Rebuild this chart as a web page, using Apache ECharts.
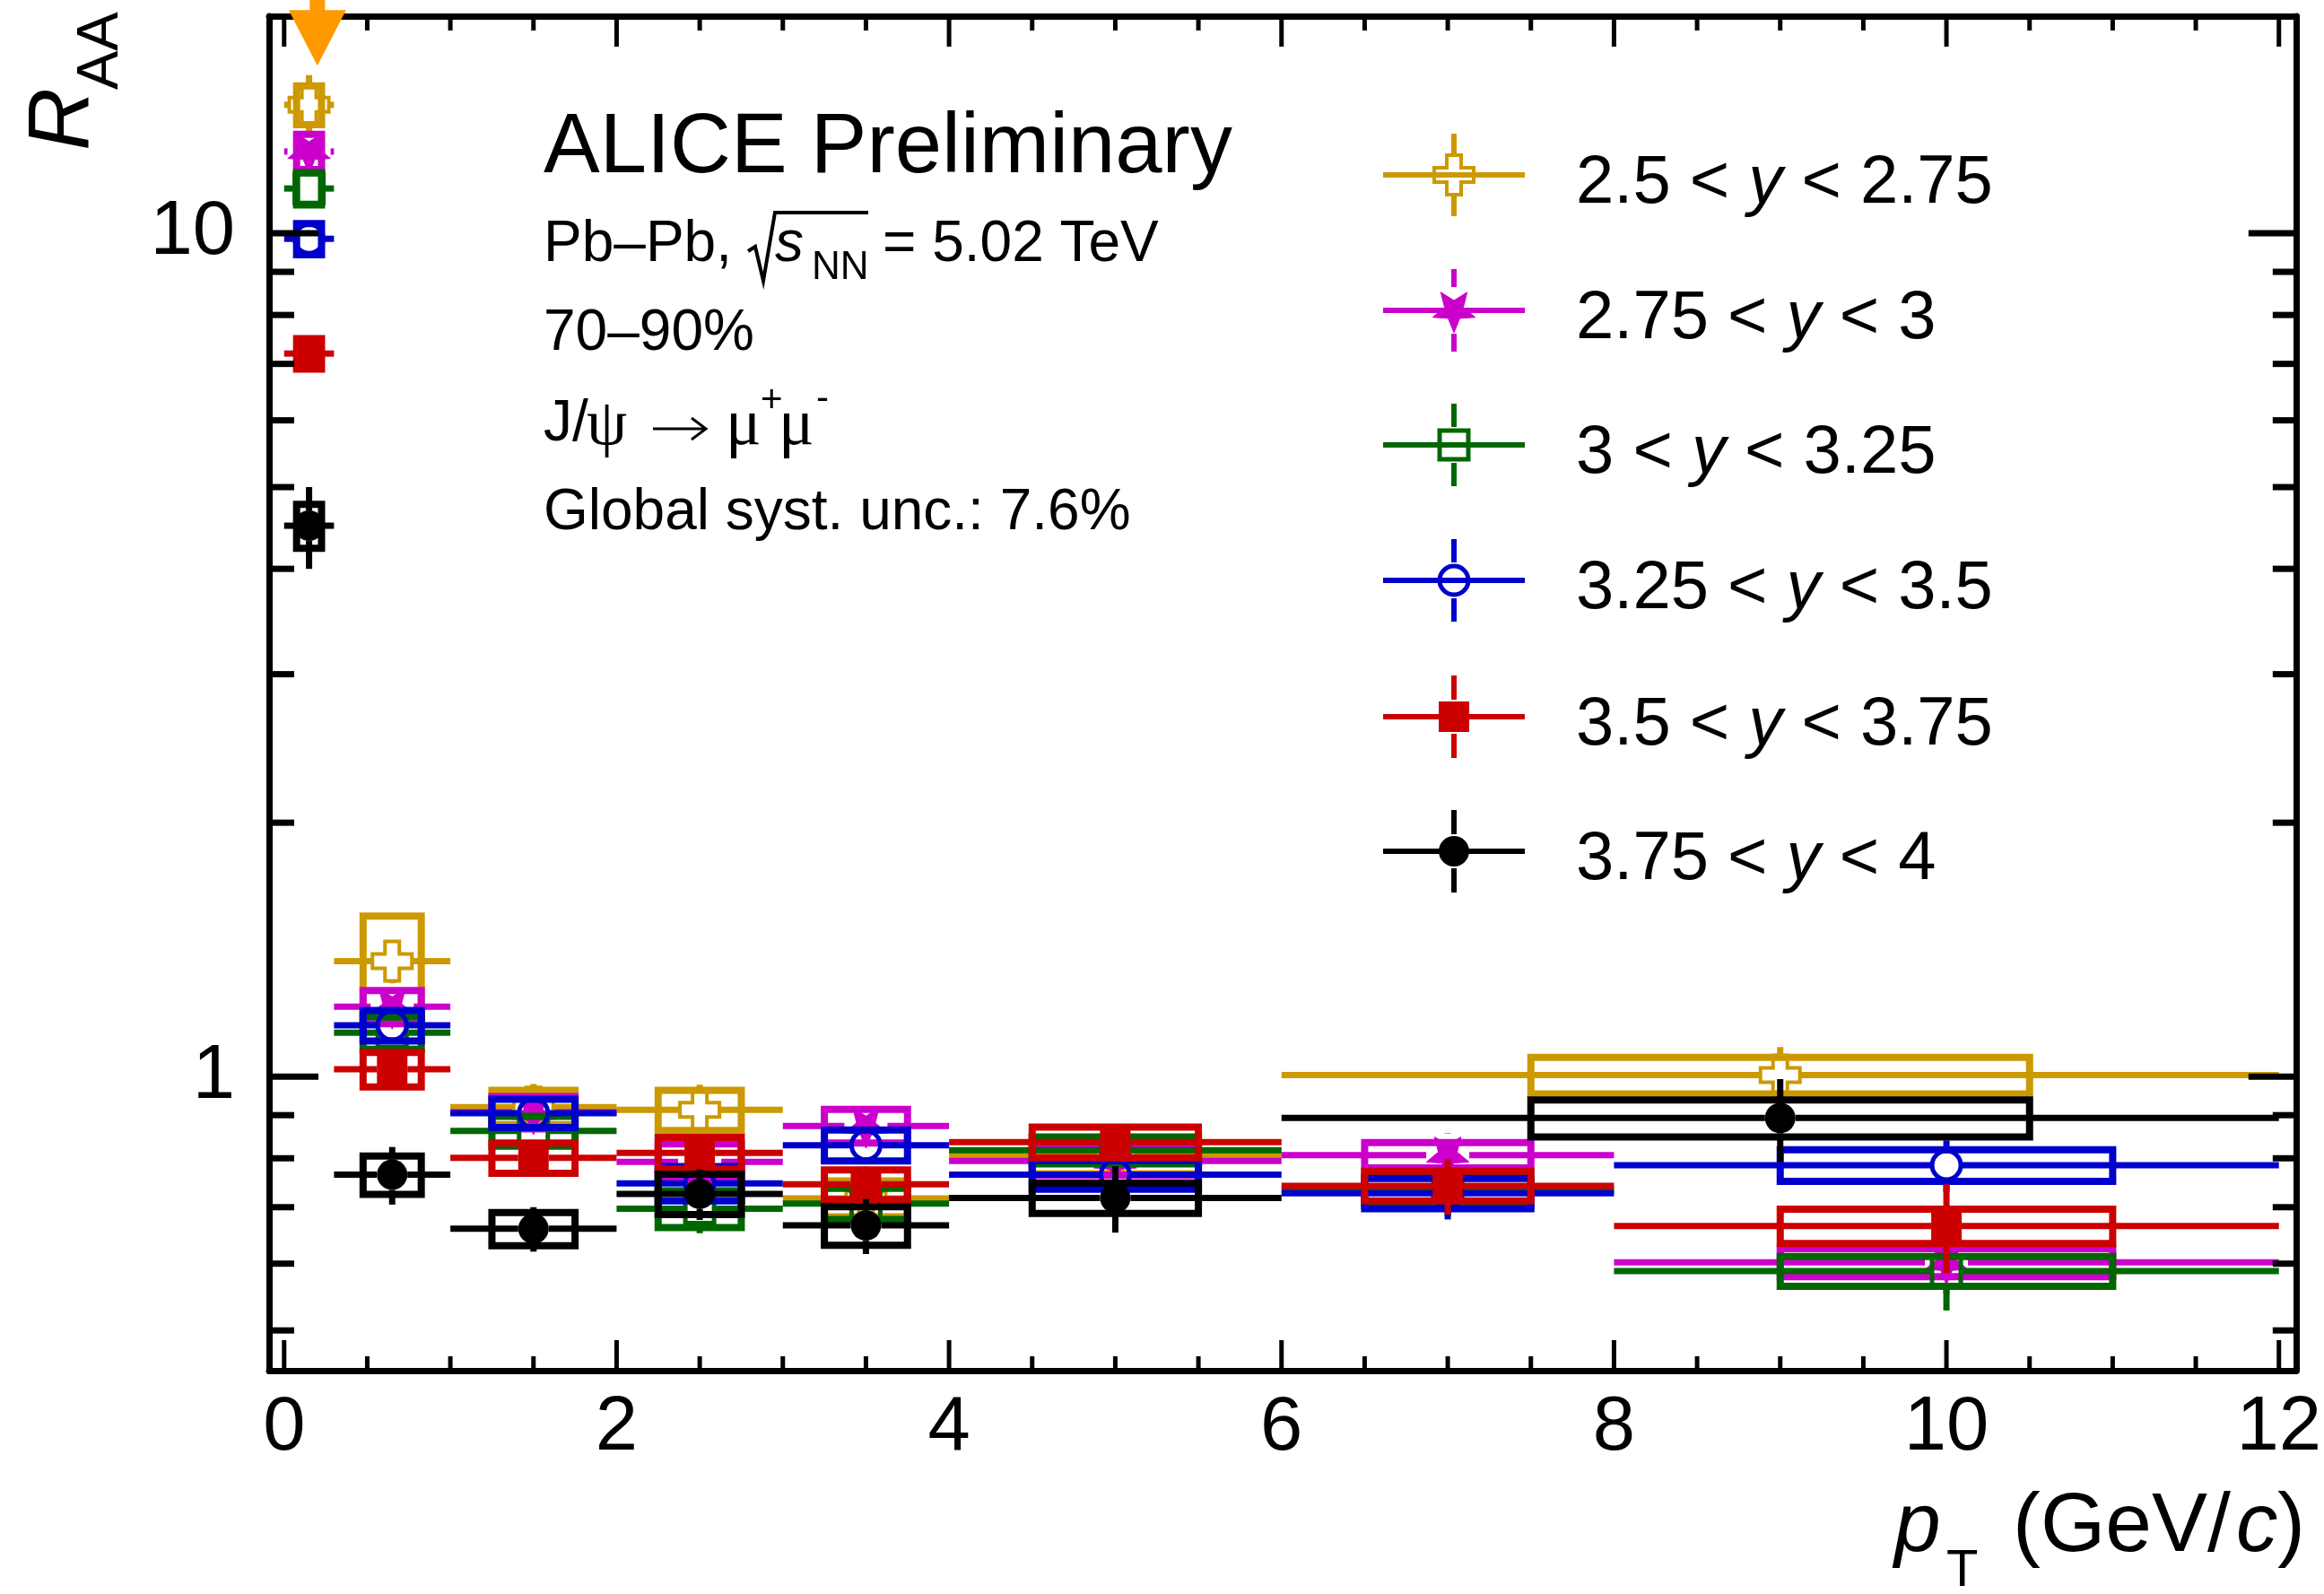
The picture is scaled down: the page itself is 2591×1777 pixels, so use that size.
<!DOCTYPE html>
<html>
<head>
<meta charset="utf-8">
<title>J/psi R_AA vs pT in rapidity intervals, Pb-Pb 70-90%</title>
<script src="https://cdn.jsdelivr.net/npm/echarts@6.0.0/dist/echarts.min.js"></script>
<style>
html, body { margin: 0; padding: 0; background: #ffffff; }
#chart { width: 2591px; height: 1777px; }
</style>
</head>
<body>
<div id="chart"></div>
<script>
// ---------------- data ----------------
// pT bins (GeV/c): the two outermost rapidity intervals use a wide last bin
const binsCoarse = [[0, 0.3], [0.3, 1], [1, 2], [2, 3], [3, 4], [4, 6], [6, 12]];
const binsFine   = [[0, 0.3], [0.3, 1], [1, 2], [2, 3], [3, 4], [4, 6], [6, 8], [8, 12]];
const ptCoarse   = [0.15, 0.65, 1.5, 2.5, 3.5, 5, 9];
const ptFine     = [0.15, 0.65, 1.5, 2.5, 3.5, 5, 7, 10];

// rapidity interval edges, one per series
const rapidityEdges = [['2.5', '2.75'], ['2.75', '3'], ['3', '3.25'], ['3.25', '3.5'], ['3.5', '3.75'], ['3.75', '4']];

// R_AA, statistical and systematic uncertainties
const raa_25_275  = [14.2, 1.37, 0.92, 0.913, 0.717, 0.807, 1.004];
const stat_25_275 = [1.2, 0.08, 0.06, 0.065, 0.05, 0.045, 0.08];
const syst_25_275 = [0.75, 0.18, 0.043, 0.05, 0.035, 0.04, 0.05];

const raa_275_3  = [12.5, 1.21, 0.907, 0.792, 0.874, 0.794, 0.807, 0.602];
const stat_275_3 = [0.6, 0.06, 0.05, 0.05, 0.05, 0.04, 0.05, 0.05];
const syst_275_3 = [0.6, 0.055, 0.04, 0.04, 0.04, 0.03, 0.028, 0.023];

const raa_3_325  = [11.3, 1.127, 0.862, 0.697, 0.707, 0.818, 0.733, 0.588];
const stat_3_325 = [0.4, 0.05, 0.04, 0.045, 0.04, 0.04, 0.05, 0.06];
const syst_3_325 = [0.5, 0.05, 0.035, 0.035, 0.03, 0.03, 0.03, 0.024];

const raa_325_35  = [9.85, 1.15, 0.905, 0.747, 0.829, 0.765, 0.727, 0.785];
const stat_325_35 = [0.3, 0.05, 0.04, 0.04, 0.04, 0.04, 0.05, 0.055];
const syst_325_35 = [0.42, 0.048, 0.035, 0.035, 0.035, 0.03, 0.03, 0.034];

const raa_35_375  = [7.2, 1.02, 0.801, 0.812, 0.745, 0.836, 0.742, 0.665];
const stat_35_375 = [0.35, 0.05, 0.04, 0.04, 0.037, 0.04, 0.056, 0.08];
const syst_35_375 = [0.3, 0.048, 0.033, 0.035, 0.03, 0.035, 0.03, 0.031];

const raa_375_4  = [4.5, 0.765, 0.66, 0.726, 0.666, 0.718, 0.893];
const stat_375_4 = [0.5, 0.06, 0.04, 0.05, 0.05, 0.065, 0.1];
const syst_375_4 = [0.27, 0.04, 0.03, 0.04, 0.035, 0.03, 0.045];

// off-scale indicator (arrow tip position)
const arrowTip = [0.2, 15.8];

// axis ticks
const xMajorTicks = [0, 2, 4, 6, 8, 10, 12];
const xMinorTicks = [0.5, 1, 1.5, 2.5, 3, 3.5, 4.5, 5, 5.5, 6.5, 7, 7.5, 8.5, 9, 9.5, 10.5, 11, 11.5];
const yMajorTicks = [1, 10];
const yMinorTicks = [0.5, 0.6, 0.7, 0.8, 0.9, 2, 3, 4, 5, 6, 7, 8, 9];

// ---------------- styling ----------------
const X_MIN = -0.0905, X_MAX = 12.103;
const Y_MIN = 0.448, Y_MAX = 18.09;
const SANS = '"Liberation Sans", Arial, Helvetica, sans-serif';
const SERIF = '"Liberation Serif", "DejaVu Serif", serif';
const ERR_LW = 7, BOX_LW = 8;

const seriesDefs = [
  { ri: 0, bins: binsCoarse, pt: ptCoarse, raa: raa_25_275, stat: stat_25_275, syst: syst_25_275, color: '#CC9900', marker: 'openCross' },
  { ri: 1, bins: binsFine, pt: ptFine, raa: raa_275_3, stat: stat_275_3, syst: syst_275_3, color: '#CC00CC', marker: 'star' },
  { ri: 2, bins: binsFine, pt: ptFine, raa: raa_3_325, stat: stat_3_325, syst: syst_3_325, color: '#006600', marker: 'openSquare' },
  { ri: 3, bins: binsFine, pt: ptFine, raa: raa_325_35, stat: stat_325_35, syst: syst_325_35, color: '#0000CC', marker: 'openCircle' },
  { ri: 4, bins: binsFine, pt: ptFine, raa: raa_35_375, stat: stat_35_375, syst: syst_35_375, color: '#CC0000', marker: 'fullSquare' },
  { ri: 5, bins: binsCoarse, pt: ptCoarse, raa: raa_375_4, stat: stat_375_4, syst: syst_375_4, color: '#000000', marker: 'fullCircle' }
];

// half-size of each marker: error bars stop at the marker edge
const MARKER_HALF = { openCross: 22, star: 24, openSquare: 18, openCircle: 18, fullSquare: 17, fullCircle: 17 };

function markerEl(type, cx, cy, color) {
  switch (type) {
    case 'openCross': {
      const h = 22, a = 8;
      const pts = [[cx - a, cy - h], [cx + a, cy - h], [cx + a, cy - a], [cx + h, cy - a], [cx + h, cy + a], [cx + a, cy + a],
                   [cx + a, cy + h], [cx - a, cy + h], [cx - a, cy + a], [cx - h, cy + a], [cx - h, cy - a], [cx - a, cy - a]];
      return { type: 'polygon', shape: { points: pts }, style: { fill: 'none', stroke: color, lineWidth: 4 } };
    }
    case 'star': {
      const R = 25, r = 11, pts = [];
      for (let k = 0; k < 10; k++) {
        const ang = Math.PI / 2 + k * Math.PI / 5;
        const rad = (k % 2 === 0) ? R : r;
        pts.push([cx + rad * Math.cos(ang), cy + rad * Math.sin(ang)]);
      }
      return { type: 'polygon', shape: { points: pts }, style: { fill: color, stroke: color, lineWidth: 1 } };
    }
    case 'openSquare':
      return { type: 'rect', shape: { x: cx - 16, y: cy - 16, width: 32, height: 32 }, style: { fill: 'none', stroke: color, lineWidth: 5 } };
    case 'openCircle':
      return { type: 'circle', shape: { cx: cx, cy: cy, r: 16 }, style: { fill: 'none', stroke: color, lineWidth: 5 } };
    case 'fullSquare':
      return { type: 'rect', shape: { x: cx - 17, y: cy - 17, width: 34, height: 34 }, style: { fill: color, stroke: null } };
    default:
      return { type: 'circle', shape: { cx: cx, cy: cy, r: 17 }, style: { fill: color, stroke: null } };
  }
}

function seg(x1, y1, x2, y2, color, lw) {
  return { type: 'line', shape: { x1: x1, y1: y1, x2: x2, y2: y2 }, style: { stroke: color, lineWidth: lw, lineCap: 'butt' } };
}

function makeRender(def) {
  const gap = MARKER_HALF[def.marker];
  return function (params, api) {
    const xc = api.value(0), xlo = api.value(1), xhi = api.value(2);
    const v = api.value(3), st = api.value(4), sy = api.value(5);
    const c = api.coord([xc, v]);
    const left = api.coord([xlo, v])[0], right = api.coord([xhi, v])[0];
    const yUp = api.coord([xc, v + st])[1], yDn = api.coord([xc, v - st])[1];
    const bh = (xhi - xlo) / 4;
    const b0 = api.coord([xc - bh, v + sy]), b1 = api.coord([xc + bh, v - sy]);
    const kids = [];
    kids.push({ type: 'rect', shape: { x: b0[0], y: b0[1], width: b1[0] - b0[0], height: b1[1] - b0[1] },
                style: { fill: 'none', stroke: def.color, lineWidth: BOX_LW } });
    if (c[0] - gap > left) kids.push(seg(left, c[1], c[0] - gap, c[1], def.color, ERR_LW));
    if (right > c[0] + gap) kids.push(seg(c[0] + gap, c[1], right, c[1], def.color, ERR_LW));
    if (c[1] - gap > yUp) kids.push(seg(c[0], yUp, c[0], c[1] - gap, def.color, ERR_LW));
    if (yDn > c[1] + gap) kids.push(seg(c[0], c[1] + gap, c[0], yDn, def.color, ERR_LW));
    kids.push(markerEl(def.marker, c[0], c[1], def.color));
    return { type: 'group', children: kids };
  };
}

const allSeries = seriesDefs.map(function (def) {
  const data = def.pt.map(function (x, i) {
    return [x, def.bins[i][0], def.bins[i][1], def.raa[i], def.stat[i], def.syst[i]];
  });
  return {
    type: 'custom', name: rapidityEdges[def.ri].join('-'), xAxisIndex: 0, yAxisIndex: 0,
    renderItem: makeRender(def), encode: { x: [0, 1, 2], y: [3] }, data: data, z: 10 + def.ri, clip: false
  };
});

// off-scale arrow at the top of the frame
allSeries.push({
  type: 'custom', xAxisIndex: 0, yAxisIndex: 0, clip: false, z: 30, encode: { x: 0, y: 1 },
  data: [arrowTip],
  renderItem: function (params, api) {
    const p = api.coord([api.value(0), api.value(1)]);
    const headH = 62, headW = 32, shaftW = 8.5;
    return { type: 'group', children: [
      { type: 'rect', shape: { x: p[0] - shaftW, y: 0, width: 2 * shaftW, height: p[1] - headH + 2 }, style: { fill: '#FF9900' } },
      { type: 'polygon', shape: { points: [[p[0] - headW, p[1] - headH], [p[0] + headW, p[1] - headH], [p[0], p[1]]] }, style: { fill: '#FF9900' } }
    ] };
  }
});

// tick marks on all four sides of the frame, placed through the axis scales
const xTickData = xMajorTicks.map(function (v) { return [v, 1, 1]; })
  .concat(xMinorTicks.map(function (v) { return [v, 1, 0]; }));
const yTickData = yMajorTicks.map(function (v) { return [1, v, 1]; })
  .concat(yMinorTicks.map(function (v) { return [1, v, 0]; }));

allSeries.push({
  type: 'custom', xAxisIndex: 0, yAxisIndex: 0, z: 40, silent: true, encode: { x: 0, y: 1 }, data: xTickData,
  renderItem: function (params, api) {
    const cs = params.coordSys;
    const px = api.coord([api.value(0), 1])[0];
    const L = api.value(2) ? 34 : 16;
    const yb = cs.y + cs.height, yt = cs.y;
    return { type: 'group', children: [seg(px, yb, px, yb - L, '#000', 5), seg(px, yt, px, yt + L, '#000', 5)] };
  }
});
allSeries.push({
  type: 'custom', xAxisIndex: 0, yAxisIndex: 0, z: 40, silent: true, encode: { x: 0, y: 1 }, data: yTickData,
  renderItem: function (params, api) {
    const cs = params.coordSys;
    const py = api.coord([1, api.value(1)])[1];
    const major = api.value(2);
    const xl = cs.x, xr = cs.x + cs.width;
    return { type: 'group', children: [
      seg(xl, py, xl + (major ? 55 : 28), py, '#000', 7),
      seg(xr, py, xr - (major ? 53 : 26), py, '#000', 7)
    ] };
  }
});

// ---------------- axes (frame) ----------------
const lineBlack = { color: '#000', width: 7 };
function xAx(pos, labels) {
  return {
    type: 'value', position: pos, min: X_MIN, max: X_MAX,
    axisLine: { show: true, onZero: false, lineStyle: lineBlack },
    axisTick: { show: false },
    axisLabel: labels ? { show: true, customValues: xMajorTicks, color: '#000', fontSize: 85, fontFamily: SANS, margin: 22 } : { show: false },
    splitLine: { show: false }, minorTick: { show: false }
  };
}
function yAx(pos, labels) {
  return {
    type: 'log', logBase: 10, position: pos, min: Y_MIN, max: Y_MAX,
    axisLine: { show: true, onZero: false, lineStyle: lineBlack },
    axisTick: { show: false },
    axisLabel: labels ? { show: true, customValues: yMajorTicks, color: '#000', fontSize: 85, fontFamily: SANS, margin: 38 } : { show: false },
    splitLine: { show: false }, minorTick: { show: false }
  };
}

// ---------------- legend and text annotations ----------------
const legendRows = [195, 346, 496, 647, 799, 949];
const legendLineX0 = 1542, legendLineX1 = 1700, legendMarkX = 1621, legendTextX = 1757;
const graphics = [];
seriesDefs.forEach(function (def, i) {
  const y = legendRows[i];
  const gap = MARKER_HALF[def.marker] + 2;
  graphics.push(seg(legendLineX0, y, legendLineX1, y, def.color, 6));
  graphics.push(seg(legendMarkX, y - 46, legendMarkX, y - gap, def.color, 6));
  graphics.push(seg(legendMarkX, y + gap, legendMarkX, y + 46, def.color, 6));
  graphics.push(markerEl(def.marker, legendMarkX, y, def.color));
  const e = rapidityEdges[def.ri];
  graphics.push({
    type: 'text', x: legendTextX, y: y + 10,
    style: {
      text: '{n|' + e[0] + ' < }{i|y}{n| < ' + e[1] + '}',
      align: 'left', verticalAlign: 'middle', textAlign: 'left', textVerticalAlign: 'middle',
      rich: {
        n: { fontSize: 76, fontFamily: SANS, fill: '#000', color: '#000' },
        i: { fontSize: 76, fontFamily: SANS, fontStyle: 'italic', fill: '#000', color: '#000' }
      }
    }
  });
});

function txt(x, y, s, font, extra) {
  const st = Object.assign({ text: s, font: font, fill: '#000', align: 'left', verticalAlign: 'middle',
                             textAlign: 'left', textVerticalAlign: 'middle' }, extra || {});
  return { type: 'text', x: x, y: y, style: st };
}

const TX = 606;
graphics.push(txt(TX, 166, 'ALICE Preliminary', '94px ' + SANS));
graphics.push(txt(TX, 273, 'Pb\u2013Pb,', '64px ' + SANS));
graphics.push({ type: 'polyline', shape: { points: [[834, 280], [842, 275], [851, 313], [864, 237], [968, 237]] },
                style: { stroke: '#000', lineWidth: 4, fill: 'none' } });
graphics.push(txt(864, 273, 's', 'italic 64px ' + SANS));
graphics.push(txt(905, 299, 'NN', '44px ' + SANS));
graphics.push(txt(984, 273, '= 5.02 TeV', '64px ' + SANS));
graphics.push(txt(TX, 372, '70\u201390%', '64px ' + SANS));
// J/psi -> mu+ mu-
graphics.push(txt(TX, 473, 'J/', '64px ' + SANS));
graphics.push(txt(654, 476, '\u03C8', '72px ' + SERIF));
graphics.push({ type: 'polyline', shape: { points: [[728, 478], [786, 478]] }, style: { stroke: '#000', lineWidth: 3, fill: 'none' } });
graphics.push({ type: 'polyline', shape: { points: [[771, 466], [787, 478], [771, 490]] }, style: { stroke: '#000', lineWidth: 3, fill: 'none' } });
graphics.push(txt(809, 476, '\u03BC', '74px ' + SERIF));
graphics.push(txt(848, 447, '+', '42px ' + SANS));
graphics.push(txt(868, 476, '\u03BC', '74px ' + SERIF));
graphics.push(txt(910, 445, '-', '42px ' + SANS));
graphics.push(txt(TX, 572, 'Global syst. unc.: 7.6%', '64px ' + SANS));

// axis titles
graphics.push(txt(2112, 1703, 'p', 'italic 93px ' + SANS));
graphics.push(txt(2170, 1752, 'T', '58px ' + SANS));
graphics.push(txt(2244, 1703, '(GeV/', '93px ' + SANS));
graphics.push(txt(2493, 1703, 'c', 'italic 93px ' + SANS));
graphics.push(txt(2539, 1703, ')', '93px ' + SANS));
graphics.push(Object.assign(txt(72, 168, 'R', 'italic 97px ' + SANS), { rotation: Math.PI / 2 }));
graphics.push(Object.assign(txt(113, 100, 'AA', '65px ' + SANS), { rotation: Math.PI / 2 }));

const chart = echarts.init(document.getElementById('chart'), null, { renderer: 'canvas', width: 2591, height: 1777 });
chart.setOption({
  animation: false,
  backgroundColor: '#ffffff',
  grid: { left: 300, top: 18, right: 27, bottom: 249, containLabel: false },
  xAxis: [xAx('bottom', true), xAx('top', false)],
  yAxis: [yAx('left', true), yAx('right', false)],
  series: allSeries,
  graphic: { elements: graphics }
});
</script>
</body>
</html>
